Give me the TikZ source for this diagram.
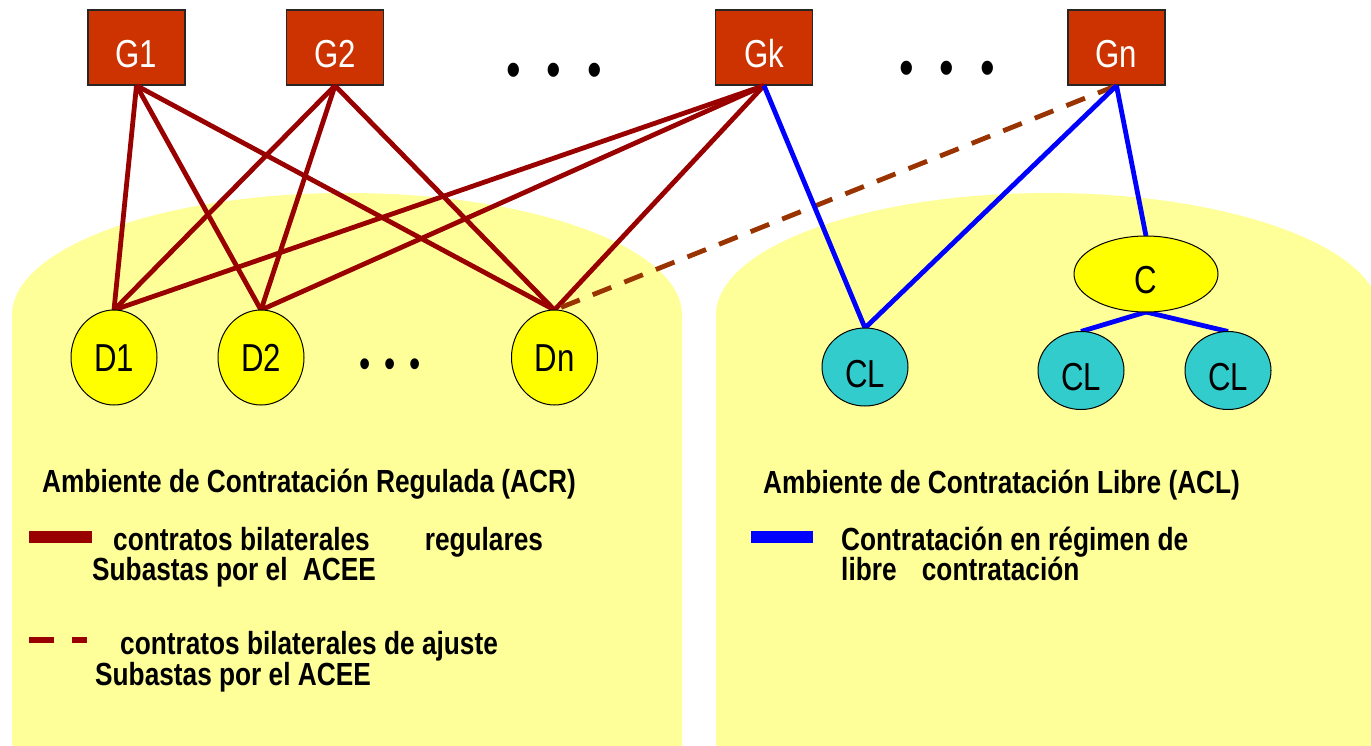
\documentclass[tikz,border=0pt]{standalone}
\usepackage{fontspec}
\setmainfont{Liberation Sans}[FakeStretch=0.8]
\newfontfamily\legfont{Liberation Sans}[FakeStretch=0.82]
\usetikzlibrary{shapes.geometric}
\definecolor{bgy}{HTML}{FFFF99}
\definecolor{ndy}{HTML}{FFFF00}
\definecolor{gbox}{HTML}{CC3300}
\definecolor{clc}{HTML}{33CCCC}
\definecolor{rline}{HTML}{990000}
\definecolor{dline}{HTML}{993300}
\definecolor{bline}{HTML}{0000FF}
\tikzset{
  gnode/.style={rectangle, fill=gbox, draw=black!85, line width=1.2pt, minimum width=97pt, minimum height=75pt, inner sep=0pt, text=white, font=\fontsize{39}{39}\selectfont, text height=40pt, text depth=0pt},
  dnode/.style={ellipse, fill=ndy, draw=black, line width=1pt, minimum width=86pt, minimum height=95pt, inner sep=0pt, font=\fontsize{39}{39}\selectfont, text height=28pt, text depth=0pt},
  cnode/.style={ellipse, fill=ndy, draw=black, line width=1pt, minimum width=144pt, minimum height=76pt, inner sep=0pt, font=\fontsize{39}{39}\selectfont, text height=40pt, text depth=0pt},
  clnode/.style={ellipse, fill=clc, draw=black, line width=1pt, minimum width=86pt, minimum height=78pt, inner sep=0pt, font=\fontsize{39}{39}\selectfont, text height=40pt, text depth=0pt},
  rl/.style={rline, line width=4.8pt},
  dl/.style={dline, line width=4.8pt, dash pattern=on 20pt off 14pt},
  bl/.style={bline, line width=4.8pt},
  legtext/.style={anchor=base west, inner sep=0pt, font=\legfont\fontsize{32}{32}\selectfont\bfseries},
  dots/.style={inner sep=0pt, font=\fontsize{52}{52}\selectfont},
  sdots/.style={inner sep=0pt, font=\fontsize{40}{40}\selectfont}
}
\begin{document}
\begin{tikzpicture}[x=1pt,y=-1pt]
\useasboundingbox (0,0) rectangle (1371,746);
\fill[white] (0,0) rectangle (1371,746);
% regions
\fill[bgy] (12,746) -- (12,315) arc[start angle=180, end angle=360, x radius=335, y radius=122] -- (682,746) -- cycle;
\fill[bgy] (716,746) -- (716,315) arc[start angle=180, end angle=360, x radius=332, y radius=122] -- (1380,746) -- cycle;
% nodes
\node[gnode] (G1) at (136.5,47.5) {G1};
\node[gnode] (G2) at (335,47.5) {G2};
\node[gnode] (Gk) at (764,47.5) {Gk};
\node[gnode] (Gn) at (1116.5,47.5) {Gn};
\node[dots] (dt1) at (554,75) {•\hspace{26pt}•\hspace{26pt}•};
\node[dots] (dt2) at (947,73) {•\hspace{26pt}•\hspace{26pt}•};
% connectors
\draw[rl] (G1.south) -- (114,310) coordinate (D1t);
\draw[rl] (G1.south) -- (261,310) coordinate (D2t);
\draw[rl] (G1.south) -- (554.5,310) coordinate (Dnt);
\draw[rl] (G2.south) -- (D1t);
\draw[rl] (G2.south) -- (D2t);
\draw[rl] (G2.south) -- (Dnt);
\draw[rl] (Gk.south) -- (D1t);
\draw[rl] (Gk.south) -- (D2t);
\draw[rl] (Gk.south) -- (Dnt);
\draw[dl] (Gn.south) -- (Dnt);
\draw[bl] (Gk.south) -- (865,328) coordinate (CL1t);
\draw[bl] (Gn.south) -- (CL1t);
\draw[bl] (Gn.south) -- (1146,236) coordinate (Ct);
\draw[bl] (1146,312) coordinate (Cb) -- (1081,331.5) coordinate (CL2t);
\draw[bl] (Cb) -- (1228,331.5) coordinate (CL3t);
% lower nodes
\node[dnode] (D1) at (114,357.5) {D1};
\node[dnode] (D2) at (261,357.5) {D2};
\node[dnode] (Dn) at (554.5,357.5) {Dn};
\node[sdots] (dt3) at (390,368) {•\hspace{14pt}•\hspace{14pt}•};
\node[cnode] (C) at (1146,274) {C};
\node[clnode] (CL1) at (865,367) {CL};
\node[clnode] (CL2) at (1081,370.5) {CL};
\node[clnode] (CL3) at (1228,370.5) {CL};
% legend left
\node[legtext] (acr) at (42,492) {Ambiente de Contratación Regulada (ACR)};
\fill[rline] (29,531) rectangle (92,543);
\node[legtext] (l1) at (113,550) {contratos bilaterales\hspace{55pt}regulares};
\node[legtext] (l2) at (92,580) {Subastas por el\hspace{8pt} ACEE};
\draw[rline, line width=6pt, dash pattern=on 25pt off 18pt] (29,640) -- (87,640);
\node[legtext] (l3) at (120,654) {contratos bilaterales de ajuste};
\node[legtext] (l4) at (95,685) {Subastas por el ACEE};
% legend right
\node[legtext] (acl) at (763,493) {Ambiente de Contratación Libre (ACL)};
\fill[bline] (751,531) rectangle (813,543);
\node[legtext] (r1) at (841,550) {Contratación en régimen de};
\node[legtext] (r2) at (841,580) {libre\hspace{18pt} contratación};
\end{tikzpicture}
\end{document}
